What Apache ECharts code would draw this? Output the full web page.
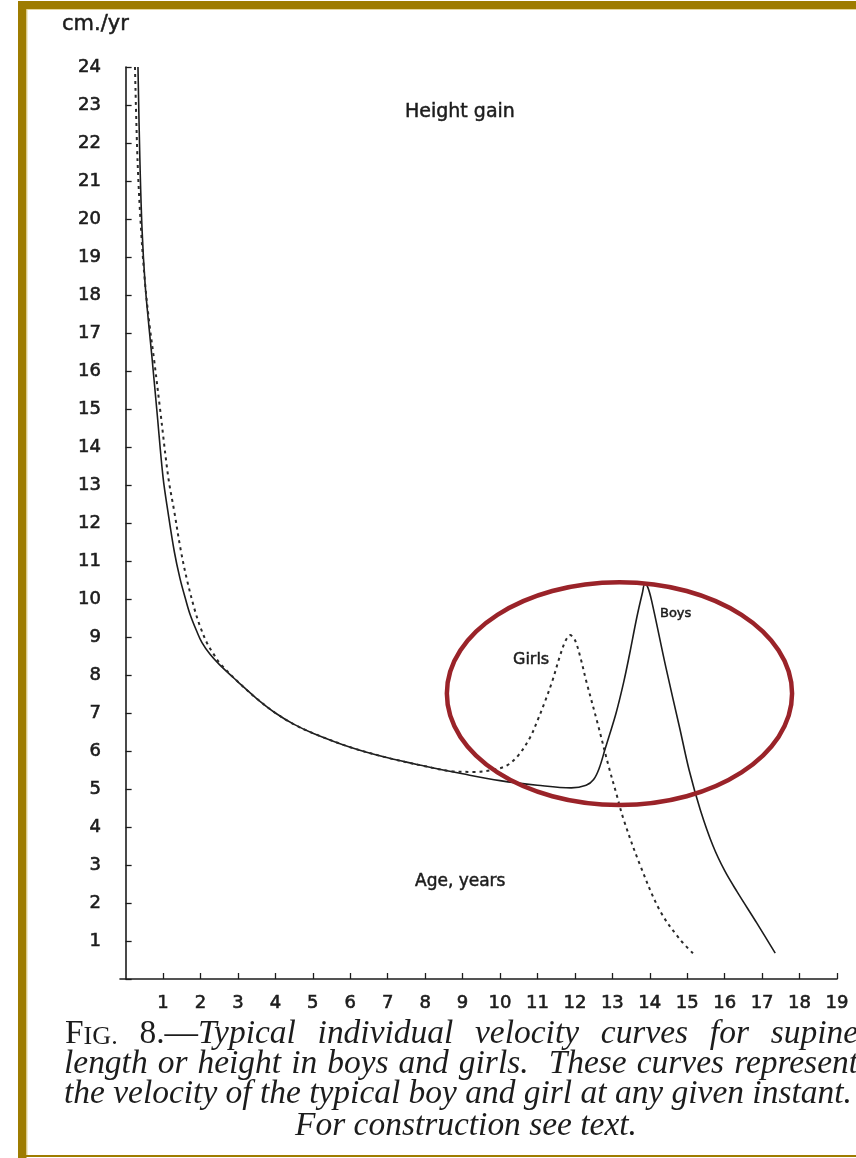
<!DOCTYPE html>
<html><head><meta charset="utf-8">
<script src="https://cdn.jsdelivr.net/npm/echarts@6/dist/echarts.min.js"></script>
<style>html,body{margin:0;padding:0;background:#fff;} #c{width:856px;height:1158px;}</style>
</head><body><div id="c"></div>
<script>
// ---- data ----
const boysAge = [0.33, 0.38, 0.44, 0.52, 0.62, 0.70, 0.84, 1.00, 1.13, 1.30, 1.45, 1.60, 1.72, 1.90, 2.04, 2.25, 2.50, 3.00, 3.50, 4.00, 4.50, 5.00, 6.00, 7.00, 8.00, 9.00, 10.00, 11.00, 11.90, 12.30, 12.50, 12.65, 12.80, 12.90, 13.10, 13.30, 13.45, 13.65, 13.80, 13.87, 13.95, 14.05, 14.43, 14.80, 15.05, 15.35, 15.69, 16.00, 16.33, 16.86, 17.35];
const boysVel = [24.0, 21.6, 19.7, 18.3, 17.2, 16.4, 14.9, 13.2, 12.3, 11.25, 10.55, 10.0, 9.6, 9.15, 8.85, 8.55, 8.28, 7.82, 7.38, 7.0, 6.7, 6.47, 6.1, 5.82, 5.6, 5.4, 5.22, 5.1, 5.03, 5.1, 5.25, 5.55, 6.03, 6.35, 7.0, 7.8, 8.5, 9.5, 10.15, 10.4, 10.3, 9.95, 8.2, 6.6, 5.5, 4.45, 3.5, 2.85, 2.3, 1.47, 0.68];
const girlsAge = [0.25, 0.32, 0.42, 0.52, 0.64, 0.76, 0.92, 1.14, 1.30, 1.47, 1.64, 1.85, 2.00, 2.17, 2.35, 2.50, 3.00, 3.50, 4.00, 4.50, 5.00, 6.00, 7.00, 8.00, 8.70, 9.30, 9.80, 10.20, 10.50, 10.80, 11.00, 11.20, 11.40, 11.60, 11.75, 11.87, 12.00, 12.15, 12.30, 12.60, 12.90, 13.10, 13.30, 13.74, 14.27, 14.80, 15.20];
const girlsVel = [24.0, 21.5, 19.6, 18.3, 17.2, 16.3, 15.0, 13.2, 12.3, 11.3, 10.5, 9.7, 9.25, 8.85, 8.55, 8.33, 7.82, 7.38, 7.0, 6.7, 6.47, 6.1, 5.82, 5.6, 5.47, 5.45, 5.5, 5.63, 5.9, 6.35, 6.8, 7.3, 7.85, 8.5, 8.9, 9.05, 8.92, 8.45, 7.85, 6.75, 5.6, 4.9, 4.2, 3.0, 1.8, 1.05, 0.63];
const xTickValues = [1,2,3,4,5,6,7,8,9,10,11,12,13,14,15,16,17,18,19];
const yTickValues = [1,2,3,4,5,6,7,8,9,10,11,12,13,14,15,16,17,18,19,20,21,22,23,24];
const yAxisTitle = 'cm./yr';
const chartTitle = 'Height gain';
const xAxisTitle = 'Age, years';
const seriesNames = ['Boys', 'Girls'];
const captionLines = [
  [[['F','up'],['IG.','sc']], [['8.—','up'],['Typical','it']], 'individual', 'velocity', 'curves', 'for', 'supine'],
  ['length', 'or', 'height', 'in', 'boys', 'and', 'girls.', '', 'These', 'curves', 'represent'],
  ['the', 'velocity', 'of', 'the', 'typical', 'boy', 'and', 'girl', 'at', 'any', 'given', 'instant.'],
  ['For', 'construction', 'see', 'text.']
];

const INK = '#1c1c1c';
const SANS = '"DejaVu Sans", "Open Sans", sans-serif';
const SERIF = '"Liberation Serif", "DejaVu Serif", serif';

const chart = echarts.init(document.getElementById('c'), null, {renderer: 'canvas'});

const labelStyle = {color: INK, fontSize: 18, fontFamily: SANS, textBorderColor: INK, textBorderWidth: 0.6};
chart.setOption({
  animation: false,
  backgroundColor: '#fff',
  grid: {left: 120, right: 19, top: 67, bottom: 179, containLabel: false},
  xAxis: {
    type: 'value', min: -0.15, max: 19,
    axisLine: {show: true, onZero: false, lineStyle: {color: INK, width: 1.6}},
    axisTick: {show: true, inside: true, length: 6, customValues: xTickValues, lineStyle: {color: INK, width: 1.3}},
    axisLabel: Object.assign({show: true, customValues: xTickValues, margin: 15}, labelStyle),
    splitLine: {show: false}
  },
  yAxis: {
    type: 'value', min: 0, max: 24, interval: 1,
    axisLine: {show: true, lineStyle: {color: INK, width: 1.6}},
    axisTick: {show: true, inside: true, length: 6, lineStyle: {color: INK, width: 1.3}},
    axisLabel: Object.assign({show: true, margin: 19,
      formatter: v => (yTickValues.indexOf(v) >= 0 ? String(v) : '')}, labelStyle),
    splitLine: {show: false}
  },
  series: [
    {name: seriesNames[0], type: 'line', data: boysAge.map((a, i) => [a, boysVel[i]]),
      smooth: 0.35, showSymbol: false, symbol: 'none',
      lineStyle: {color: INK, width: 1.6}},
    {name: seriesNames[1], type: 'line', data: girlsAge.map((a, i) => [a, girlsVel[i]]),
      smooth: 0.35, showSymbol: false, symbol: 'none',
      lineStyle: {color: '#2a2a2a', width: 2, type: [3, 4]}}
  ]
});

// ---- caption layout ----
const ctx = document.createElement('canvas').getContext('2d');
const fontOf = (kind, size) => {
  if (kind === 'it') return 'italic ' + size + 'px ' + SERIF;
  if (kind === 'sc') return (size * 0.78).toFixed(1) + 'px ' + SERIF;
  return size + 'px ' + SERIF;
};
const measure = (t, kind, size) => { ctx.font = fontOf(kind, size); return ctx.measureText(t).width; };
let baseSize = 26;
{
  const w = measure(captionLines[2].join(' '), 'it', 26);
  baseSize = +(26 * 788 / w).toFixed(2);
}
const ASC = 0.91;
const graphics = [];
const wordParts = w => (typeof w === 'string' ? [[w, 'it']] : w);
const wordWidth = w => wordParts(w).reduce((s, p) => s + measure(p[0], p[1], baseSize), 0);
function placeWord(w, x, baseline) {
  let xx = x;
  wordParts(w).forEach(p => {
    const sz = p[1] === 'sc' ? baseSize * 0.78 : baseSize;
    graphics.push({type: 'text', x: xx, y: baseline - ASC * sz,
      style: {text: p[0], font: fontOf(p[1], baseSize), fill: INK, verticalAlign: 'top', align: 'left'}});
    xx += measure(p[0], p[1], baseSize);
  });
}
function justify(words, x0, x1, baseline) {
  const total = words.filter(w => w !== '').reduce((s, w) => s + wordWidth(w), 0);
  const gap = (x1 - x0 - total) / (words.length - 1);
  let x = x0;
  words.forEach(w => {
    if (w !== '') { placeWord(w, x, baseline); x += wordWidth(w); }
    x += gap;
  });
}
function natural(words, x0, baseline) {
  const sp = measure(' ', 'it', baseSize);
  let x = x0;
  words.forEach(w => { placeWord(w, x, baseline); x += wordWidth(w) + sp; });
}
function centered(words, cx, baseline) {
  const sp = measure(' ', 'it', baseSize);
  const total = words.reduce((s, w) => s + wordWidth(w), 0) + sp * (words.length - 1);
  natural(words, cx - total / 2, baseline);
}
justify(captionLines[0], 65, 858, 1048);
justify(captionLines[1], 64, 858, 1078);
natural(captionLines[2], 64, 1108);
centered(captionLines[3], 466, 1140);

// ---- annotations ----
const sansText = (t, x, y, size) => ({type: 'text', x: x, y: y,
  style: {text: t, fontFamily: SANS, fontSize: size, fill: INK, stroke: INK, lineWidth: 0.5, align: 'left', verticalAlign: 'middle'}});
graphics.push(sansText(yAxisTitle, 62, 25, 21));
graphics.push(sansText(chartTitle, 405, 112, 19));
graphics.push(sansText(xAxisTitle, 415, 882, 17));
graphics.push(sansText(seriesNames[1], 513, 660, 16));
graphics.push(sansText(seriesNames[0], 660, 614, 13));

// red ellipse, defined in data units (age, cm/yr)
const ell = {age: 13.19, vel: 7.51, rAge: 4.61, rVel: 2.93};
const c = chart.convertToPixel({gridIndex: 0}, [ell.age, ell.vel]);
const e1 = chart.convertToPixel({gridIndex: 0}, [ell.age + ell.rAge, ell.vel + ell.rVel]);
graphics.push({type: 'ellipse', z: 10, shape: {cx: c[0], cy: c[1], rx: Math.abs(e1[0] - c[0]), ry: Math.abs(e1[1] - c[1])},
  style: {fill: 'none', stroke: '#9a2329', lineWidth: 4.5}});

// gold frame
const GOLD = '#9e7c00';
graphics.push({type: 'rect', shape: {x: 18, y: 1, width: 838, height: 8}, style: {fill: GOLD}});
graphics.push({type: 'rect', shape: {x: 18, y: 9, width: 838, height: 1}, style: {fill: '#e6d79c'}});
graphics.push({type: 'rect', shape: {x: 18, y: 1, width: 8.5, height: 1157}, style: {fill: GOLD}});
graphics.push({type: 'rect', shape: {x: 26.5, y: 9, width: 1, height: 1146}, style: {fill: '#e6d79c'}});
graphics.push({type: 'rect', shape: {x: 18, y: 1155, width: 838, height: 2}, style: {fill: GOLD}});

chart.setOption({graphic: {elements: graphics}});
</script>
</body></html>
